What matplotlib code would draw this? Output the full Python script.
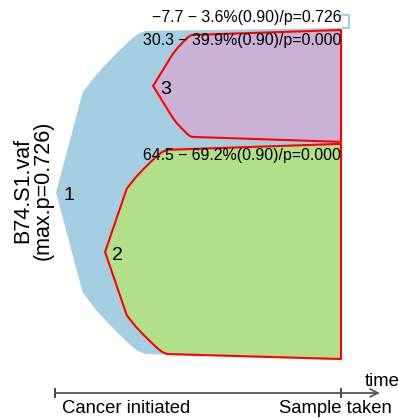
import matplotlib
matplotlib.use("Agg")
import matplotlib.pyplot as plt
import numpy as np

plt.rcParams['font.family'] = ['Liberation Sans', 'DejaVu Sans']

# ---- data ----
clone_ids = ["1", "2", "3"]
clone_labels = ["\u22127.7 \u2212 3.6%(0.90)/p=0.726",
                "64.5 \u2212 69.2%(0.90)/p=0.000",
                "30.3 \u2212 39.9%(0.90)/p=0.000"]
fill_colors = ["#A6CEE3", "#B2DF8A", "#CAB2D6"]
start_time = [0.0035, 0.175, 0.343]      # emergence (tip) time
full_time = [0.315, 0.392, 0.479]        # time clone reaches full width
kink_frac = [0.30, 0.35, 0.50]
top_left = [99.1, 63.3, 97.9]
bottom_left = [1.8, 1.8, 67.2]
top_right = [100.0, 65.1, 99.4]
bottom_right = [0.0, 0.3, 65.7]
draw_order = [0, 2, 1]
sample_name = "B74.S1.vaf"
max_p = "0.726"
x_axis_labels = ["Cancer initiated", "Sample taken"]

# normalized profile of the fish head after the kink (s in 0..1, v fraction of half-height)
prof_s = [0.0, 0.22, 0.41, 0.59, 0.75, 0.88, 1.0]
prof_v = [0.62, 0.73, 0.81, 0.88, 0.94, 0.98, 1.0]

W, H = 399, 418
fig = plt.figure(figsize=(W / 100, H / 100), dpi=100)
ax = fig.add_axes([0, 0, 1, 1])
# time 0 -> px 55, time 1 -> px 341 ; v = (360 - py)/3.32
ax.set_xlim(-55 / 286, (W - 55) / 286)
ax.set_ylim((360 - H) / 3.32, 360 / 3.32)
ax.axis("off")


def fish(i):
    t0, t1, k = start_time[i], full_time[i], kink_frac[i]
    ym = (top_left[i] + bottom_left[i]) / 2
    ht = top_left[i] - ym
    hb = ym - bottom_left[i]
    us = [0.0] + [k + s * (1 - k) for s in prof_s]
    vs = [0.0] + prof_v
    xs_top = [t0 + u * (t1 - t0) for u in us]
    ys_top = [ym + v * ht for v in vs]
    ys_bot = [ym - v * hb for v in vs]
    xs = xs_top + [1.0, 1.0] + xs_top[::-1]
    ys = ys_top + [top_right[i], bottom_right[i]] + ys_bot[::-1]
    return xs, ys


for i in draw_order:
    xs, ys = fish(i)
    if i == 0:
        ax.fill(xs, ys, color=fill_colors[i], lw=0, zorder=1)
    else:
        ax.fill(xs, ys, facecolor=fill_colors[i], edgecolor="red", lw=1.5,
                zorder=2, joinstyle="round")

for i in range(3):
    ym = (top_left[i] + bottom_left[i]) / 2
    ax.text(start_time[i] + 0.045, ym - 1.0, clone_ids[i], fontsize=14,
            ha="center", va="center", zorder=4)
    if i == 0:
        ly = top_right[i] + 3.3
    else:
        ly = top_left[i] - 1.8
    ax.text(1.0, ly, clone_labels[i], fontsize=11.4, ha="right", va="center",
            zorder=4)

# bracket connecting the founding clone label
bx = [1.0, 1.028, 1.028, 1.007]
by = [top_right[0] + 3.9, top_right[0] + 3.9, top_right[0], top_right[0]]
ax.plot(bx, by, color=fill_colors[0], lw=1.6, zorder=3, solid_joinstyle="miter")

# y label
ax.text(-22 / 286, 51.0, sample_name + "\n(max.p=" + max_p + ")", rotation=90,
        fontsize=15.5, ha="center", va="center", linespacing=1.0)

# time axis
ya = -9.94
ax.annotate("", xy=(1.136, ya), xytext=(0.0, ya),
            arrowprops=dict(arrowstyle="->", color="#555555", lw=1.3,
                            mutation_scale=14, shrinkA=0, shrinkB=0))
for t in [0.0, 1.0]:
    ax.plot([t, t], [ya - 1.2, ya + 1.2], color="#333333", lw=1.3)
ax.text(1.083, -4.0, "time", fontsize=13.3, ha="left", va="top")
ax.text(0.0245, -15.9, x_axis_labels[0], fontsize=13.3, ha="left",
        va="baseline")
ax.text(0.783, -15.9, x_axis_labels[1], fontsize=13.3, ha="left",
        va="baseline")

fig.savefig("out.png", dpi=100)
